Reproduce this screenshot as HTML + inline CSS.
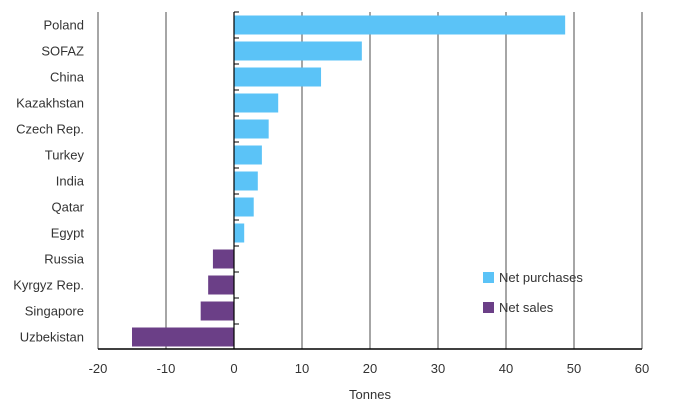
<!DOCTYPE html>
<html><head><meta charset="utf-8"><style>
body{margin:0;background:#fff;font-family:"Liberation Sans",sans-serif;}
svg text{font-family:"Liberation Sans",sans-serif;fill:#333;font-size:13px;}
</style></head><body>
<svg width="696" height="409">
<g id="grid"></g><g id="bars"></g><g id="axes"></g>
<g>
<rect x="483" y="272" width="11" height="11" fill="#5bc3f7"/>
<text x="499" y="282">Net purchases</text>
<rect x="483" y="302" width="11" height="11" fill="#6b3f87"/>
<text x="499" y="312">Net sales</text>
</g>
<text x="370" y="399" text-anchor="middle">Tonnes</text>
</svg>
<script>
const categories=["Poland","SOFAZ","China","Kazakhstan","Czech Rep.","Turkey","India","Qatar","Egypt","Russia","Kyrgyz Rep.","Singapore","Uzbekistan"];
const values=[48.7,18.8,12.8,6.5,5.1,4.1,3.5,2.9,1.5,-3.1,-3.8,-4.9,-15];
const ticks=[-20,-10,0,10,20,30,40,50,60];
const NS="http://www.w3.org/2000/svg";
const x=v=>234+v*6.8;
const top0=12,step=26,bottom=349;
function mk(t,a,p){const e=document.createElementNS(NS,t);for(const k in a)e.setAttribute(k,a[k]);p.appendChild(e);return e;}
const grid=document.getElementById('grid'),bars=document.getElementById('bars'),axes=document.getElementById('axes');
ticks.forEach(t=>{
 if(t!==0){const l=mk('line',{x1:x(t),x2:x(t),y1:top0,y2:bottom,stroke:'#a6a6a6','stroke-width':2},grid);
 
 }
 const tx=mk('text',{x:x(t),y:373,'text-anchor':'middle'},axes);tx.textContent=t;
 
 
});
categories.forEach((c,i)=>{
 const cy=top0+step*i+step/2,v=values[i];
 const r=mk('rect',{x:Math.min(x(0),x(v)),y:cy-9.5,width:Math.abs(x(v)-x(0)),height:19,fill:v>=0?'#5bc3f7':'#6b3f87'},bars);
 
 
 const t=mk('text',{x:84,y:cy+4.5,'text-anchor':'end'},axes);t.textContent=c;
 
 
 mk('line',{x1:x(0),x2:x(0)+5,y1:top0+step*i,y2:top0+step*i,stroke:'#000','stroke-width':1},axes);
});
const za=mk('line',{x1:x(0),x2:x(0),y1:top0,y2:bottom,stroke:'#000','stroke-width':1.2},axes);


const xa=mk('line',{x1:98,x2:642,y1:bottom,y2:bottom,stroke:'#000','stroke-width':1.5},axes);


</script>
</body></html>
